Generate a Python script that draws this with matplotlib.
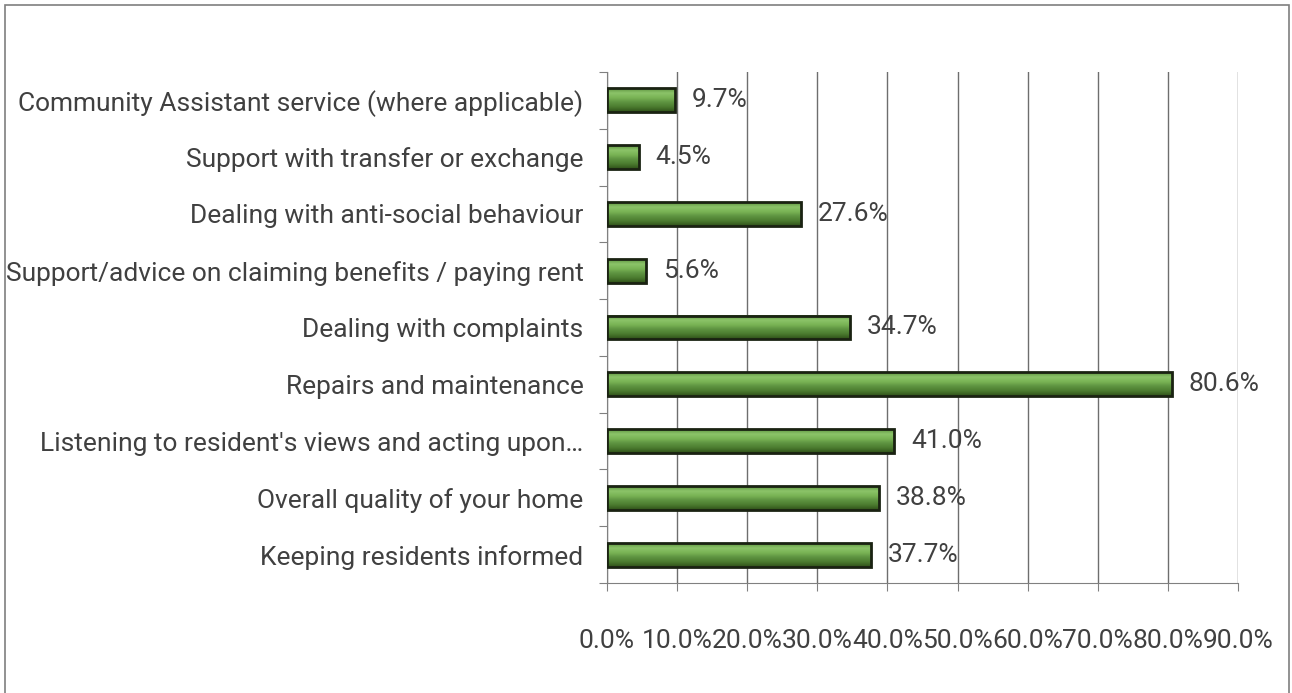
import matplotlib
matplotlib.use("Agg")
import matplotlib.pyplot as plt
import numpy as np
from matplotlib.patches import Rectangle
from matplotlib.colors import LinearSegmentedColormap
from matplotlib.ticker import MultipleLocator, FuncFormatter

categories = [
    "Keeping residents informed",
    "Overall quality of your home",
    "Listening to resident's views and acting upon\u2026",
    "Repairs and maintenance",
    "Dealing with complaints",
    "Support/advice on claiming benefits / paying rent",
    "Dealing with anti-social behaviour",
    "Support with transfer or exchange",
    "Community Assistant service (where applicable)",
]
values = [37.7, 38.8, 41.0, 80.6, 34.7, 5.6, 27.6, 4.5, 9.7]

plt.rcParams["font.family"] = ["Roboto", "DejaVu Sans"]
FS = 19
TXT = "#404040"

fig = plt.figure(figsize=(12.92, 6.93), dpi=100)
ax = fig.add_axes([607 / 1292, 1 - 583 / 693, 631 / 1292, 511 / 693])

# frame round the whole chart area
fig.patches.append(Rectangle((5 / 1292, -0.05), 1284 / 1292, 1.05 - 5 / 693,
                             transform=fig.transFigure, fill=False,
                             edgecolor="#7f7f7f", linewidth=1.2))

y = list(range(len(categories)))
h = 0.42

# vertical shading for the bevelled bar face (bottom -> top)
shade = LinearSegmentedColormap.from_list(
    "bevel", ["#2f5019", "#4a7a2e", "#5d9240", "#79b355", "#8cc469", "#5d9240"])
grad = np.linspace(0, 1, 64).reshape(-1, 1)

bars = ax.barh(y, values, height=h, color="none", edgecolor="#1a2212",
               linewidth=2, zorder=4)
for b in bars:
    x0, y0 = b.get_x(), b.get_y()
    ax.imshow(grad, cmap=shade, origin="lower", aspect="auto",
              extent=(x0, x0 + b.get_width(), y0, y0 + b.get_height()),
              zorder=3, interpolation="bilinear")

for yi, v in zip(y, values):
    ax.text(v + 2.4, yi, f"{v:.1f}%", va="center", ha="left",
            fontsize=FS, color=TXT, zorder=5)

ax.set_xlim(0, 90)
ax.set_ylim(-0.5, len(categories) - 0.5)
ax.set_aspect("auto")
ax.xaxis.set_major_locator(MultipleLocator(10))
ax.xaxis.set_major_formatter(FuncFormatter(lambda x, _: f"{x:.1f}%"))
ax.set_yticks([i - 0.5 for i in range(len(categories) + 1)])
ax.set_yticklabels([])
ax.set_yticks(y, minor=True)
ax.set_yticklabels(categories, minor=True)
ax.tick_params(axis="y", which="minor", length=0, pad=17,
               labelsize=FS, labelcolor=TXT)
ax.tick_params(axis="y", which="major", length=6, color="#808080")
ax.tick_params(axis="x", length=6, color="#808080", pad=27,
               labelsize=FS, labelcolor=TXT)

ax.grid(axis="x", color="#6e6e6e", linewidth=1, zorder=0)
ax.set_axisbelow(True)
for s in ["top", "right"]:
    ax.spines[s].set_visible(False)
for s in ["left", "bottom"]:
    ax.spines[s].set_color("#808080")

fig.savefig("out.png", dpi=100)
